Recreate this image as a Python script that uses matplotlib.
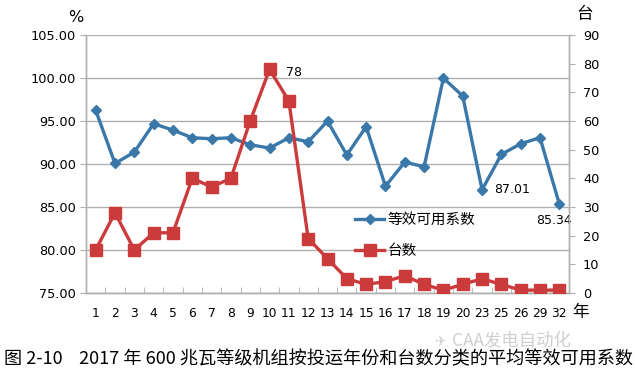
import matplotlib.pyplot as plt
import numpy as np

plt.rcParams['font.family'] = ['Noto Sans CJK SC', 'DejaVu Sans']

# years in service (category labels)
years = ['1', '2', '3', '4', '5', '6', '7', '8', '9', '10', '11', '12', '13',
         '14', '15', '16', '17', '18', '19', '20', '23', '25', '26', '29', '32']
# equivalent availability factor, %
eaf = [96.27, 90.06, 91.38, 94.69, 93.94, 93.05, 92.94, 93.05, 92.24, 91.85,
       93.05, 92.59, 94.99, 91.05, 94.33, 87.42, 90.22, 89.68, 99.99, 97.90,
       87.01, 91.11, 92.36, 93.05, 85.34]
# number of units
units = [15, 28, 15, 21, 21, 40, 37, 40, 60, 78, 67, 19, 12, 5, 3, 4, 6, 3,
         1, 3, 5, 3, 1, 1, 1]

blue = '#3a78a9'
red = '#cc3b3b'
grey = '#b0b0b0'

fig = plt.figure(figsize=(6.35, 3.72), dpi=100)
ax = fig.add_axes([86 / 635, 1 - 293 / 372, (569 - 86) / 635, (293 - 35) / 372])
ax2 = ax.twinx()

x = np.arange(len(years))

ax.plot(x, eaf, color=blue, lw=2.4, marker='D', ms=5.5, label='等效可用系数', zorder=3)
ax2.plot(x, units, color=red, lw=2.4, marker='s', ms=8, label='台数', zorder=3)

ax.set_ylim(75, 105)
ax.set_yticks(np.arange(75, 105.1, 5))
ax.set_yticklabels([f'{v:.2f}' for v in np.arange(75, 105.1, 5)], fontsize=9.3,
                   family='DejaVu Sans')
ax2.set_ylim(0, 90)
ax2.set_yticks(np.arange(0, 91, 10))
ax2.set_yticklabels([str(v) for v in range(0, 91, 10)], fontsize=9.3, family='DejaVu Sans')

ax.set_xlim(-0.5, len(years) - 0.5)
ax.set_xticks(x)
ax.set_xticklabels(years, fontsize=8.8, family='DejaVu Sans')
ax.set_xticks(np.arange(-0.5, len(years), 1), minor=True)
ax.tick_params(axis='x', which='major', length=0, pad=10)
ax.tick_params(axis='x', which='minor', length=4, color=grey, direction='in')
ax.tick_params(axis='y', length=4, color=grey, pad=3)
ax2.tick_params(axis='y', length=4, color=grey, pad=6)

ax.grid(axis='y', color=grey, lw=1)
ax.set_axisbelow(True)
for s in ['top']:
    ax.spines[s].set_visible(False)
    ax2.spines[s].set_visible(False)
for a in (ax, ax2):
    for s in ['left', 'right', 'bottom']:
        a.spines[s].set_color(grey)
        a.spines[s].set_linewidth(1)

# data labels
i10 = years.index('10')
ax2.annotate(str(units[i10]), (x[i10], units[i10]), xytext=(12, -2),
             textcoords='offset points', fontsize=9, va='center', family='DejaVu Sans')
i23 = years.index('23')
ax.annotate(f'{eaf[i23]:.2f}', (x[i23], eaf[i23]), xytext=(9, 0),
            textcoords='offset points', fontsize=9, va='center', family='DejaVu Sans')
ax.annotate(f'{eaf[-1]:.2f}', (x[-1], eaf[-1]), xytext=(-4, -12),
            textcoords='offset points', fontsize=9, va='center', ha='center',
            family='DejaVu Sans')

h1, l1 = ax.get_legend_handles_labels()
h2, l2 = ax2.get_legend_handles_labels()
leg = ax2.legend(h1 + h2, l1 + l2, loc='upper left', bbox_to_anchor=(0.53, 0.36),
                 frameon=False, fontsize=10.5, handlelength=2.0, labelspacing=1.15,
                 handletextpad=0.2)

fig.text(76 / 635, 1 - 17 / 372, '%', fontsize=11.5, ha='center', va='center',
         family='DejaVu Sans')
fig.text(585 / 635, 1 - 15 / 372, '台', fontsize=12, ha='center', va='center')
fig.text(581 / 635, 1 - 313 / 372, '年', fontsize=12, ha='center', va='center')

fig.text(440 / 635, 1 - 341 / 372, '✈', fontsize=10, color='#d4d4d4',
         ha='center', va='center', family='DejaVu Sans')
fig.text(452 / 635, 1 - 341 / 372, 'CAA发电自动化', fontsize=12.5, color='#cfcfcf',
         ha='left', va='center')
fig.text(4 / 635, 1 - 359 / 372,
         '图 2-10    2017 年 600 兆瓦等级机组按投运年份和台数分类的平均等效可用系数',
         fontsize=13.1, ha='left', va='center')

fig.savefig('out.png', dpi=100)
